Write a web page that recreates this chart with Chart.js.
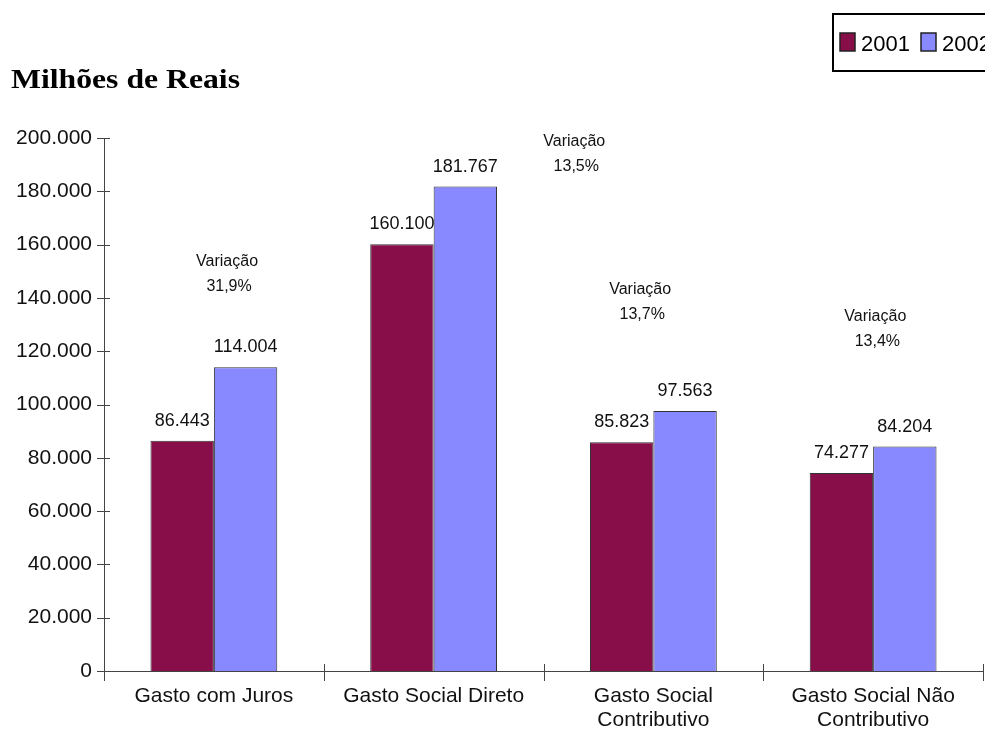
<!DOCTYPE html>
<html>
<head>
<meta charset="utf-8">
<script src="https://cdn.jsdelivr.net/npm/chart.js@4.4.1/dist/chart.umd.min.js"></script>
<style>
  html, body { margin: 0; padding: 0; background: #fff; overflow: hidden; }
  #wrap { width: 985px; height: 735px; }
</style>
</head>
<body>
<div id="wrap"><canvas id="gastoChart" width="985" height="735"></canvas></div>
<script>
    // dados do gráfico
    const categorias = ['Gasto com Juros', 'Gasto Social Direto', ['Gasto Social', 'Contributivo'], ['Gasto Social Não', 'Contributivo']];
    const anos = ['2001', '2002'];
    const valores2001 = [86443, 160100, 85823, 74277];
    const valores2002 = [114004, 181767, 97563, 84204];
    const variacoes = ['31,9%', '13,5%', '13,7%', '13,4%'];
    const yTicks = [0, 20000, 40000, 60000, 80000, 100000, 120000, 140000, 160000, 180000, 200000];

    // onde fica cada texto "Variação" (deslocamento na categoria, valor no eixo y)
    const variacaoDx = [0.06, 0.64, -0.06, 0.01];
    const variacaoY = [153500, 198500, 143300, 132800];

    const cores = ['#880E4A', '#8888FF'];

    function formatoBR(v) {
        return String(v).replace(/\B(?=(\d{3})+(?!\d))/g, '.');
    }

    const desenhoExtra = {
        id: 'desenhoExtra',
        afterDraw(chart) {
            const ctx = chart.ctx;
            const x = chart.scales.x;
            const y = chart.scales.y;
            const area = chart.chartArea;
            ctx.save();

            // marcas do eixo y (cruzando o eixo)
            ctx.strokeStyle = '#444';
            ctx.lineWidth = 1;
            y.ticks.forEach(t => {
                const py = Math.round(y.getPixelForValue(t.value)) + 0.5;
                ctx.beginPath();
                ctx.moveTo(area.left - 7, py);
                ctx.lineTo(area.left + 6, py);
                ctx.stroke();
            });

            // marcas do eixo x entre as categorias
            const larg = (x.getPixelForValue(1) - x.getPixelForValue(0));
            for (let i = 0; i <= categorias.length; i++) {
                const px = Math.round(x.getPixelForValue(0) - larg / 2 + larg * i) + 0.5;
                ctx.beginPath();
                ctx.moveTo(px, area.bottom - 7);
                ctx.lineTo(px, area.bottom + 10);
                ctx.stroke();
            }

            // valores acima das barras
            ctx.fillStyle = '#111';
            ctx.font = '18px "Liberation Sans", Arial, sans-serif';
            ctx.textAlign = 'center';
            ctx.textBaseline = 'alphabetic';
            chart.data.datasets.forEach((ds, di) => {
                chart.getDatasetMeta(di).data.forEach((bar, i) => {
                    ctx.fillText(formatoBR(ds.data[i]), bar.x, bar.y - 15);
                });
            });

            // textos de variação
            ctx.font = '16px "Liberation Sans", Arial, sans-serif';
            ctx.textBaseline = 'middle';
            variacoes.forEach((txt, i) => {
                const px = x.getPixelForValue(i) + variacaoDx[i] * larg;
                const py = y.getPixelForValue(variacaoY[i]);
                ctx.fillText('Variação', px, py);
                ctx.fillText(txt, px + 2, py + 25);
            });

            // título
            ctx.textAlign = 'left';
            ctx.textBaseline = 'alphabetic';
            ctx.fillStyle = '#000';
            ctx.font = 'bold 28px "Liberation Serif", "Times New Roman", serif';
            const titulo = 'Milhões de Reais';
            const w = ctx.measureText(titulo).width;
            ctx.save();
            ctx.translate(11, 88);
            ctx.scale(229 / w, 1);
            ctx.fillText(titulo, 0, 0);
            ctx.restore();

            // legenda (cortada na borda direita como no original)
            ctx.strokeStyle = '#000';
            ctx.lineWidth = 2;
            ctx.strokeRect(833, 14, 200, 57);
            ctx.font = '22px "Liberation Sans", Arial, sans-serif';
            let lx = 840;
            anos.forEach((ano, i) => {
                ctx.fillStyle = cores[i];
                ctx.fillRect(lx, 33, 15, 18);
                ctx.lineWidth = 1.5;
                ctx.strokeStyle = '#222';
                ctx.strokeRect(lx, 33, 15, 18);
                ctx.fillStyle = '#000';
                ctx.fillText(ano, lx + 21, 51);
                lx += 81;
            });

            ctx.restore();
        }
    };

    const ctx = document.getElementById('gastoChart').getContext('2d');
    const gastoChart = new Chart(ctx, {
        type: 'bar',
        data: {
            labels: categorias,
            datasets: [{
                label: anos[0],
                data: valores2001,
                backgroundColor: cores[0],
                borderColor: '#333',
                borderWidth: 1
            }, {
                label: anos[1],
                data: valores2002,
                backgroundColor: cores[1],
                borderColor: '#333',
                borderWidth: 1
            }]
        },
        options: {
            responsive: false,
            animation: false,
            layout: {
                padding: { left: 0, top: 138, right: 2, bottom: 0 }
            },
            datasets: {
                bar: {
                    categoryPercentage: 0.577,
                    barPercentage: 1
                }
            },
            scales: {
                x: {
                    grid: { display: false },
                    border: { color: '#444', width: 1 },
                    ticks: {
                        color: '#111',
                        padding: 5,
                        maxRotation: 0,
                        font: { family: '"Liberation Sans", Arial, sans-serif', size: 21, lineHeight: 1.15 }
                    },
                    afterFit: s => { s.height = 64; }
                },
                y: {
                    min: 0,
                    max: 200000,
                    afterBuildTicks: s => { s.ticks = yTicks.map(v => ({ value: v })); },
                    grid: { display: false },
                    border: { color: '#444', width: 1 },
                    ticks: {
                        color: '#111',
                        padding: 4,
                        font: { family: '"Liberation Sans", Arial, sans-serif', size: 21 },
                        callback: v => formatoBR(v)
                    },
                    afterFit: s => { s.width = 104; }
                }
            },
            plugins: {
                legend: { display: false },
                tooltip: { enabled: false }
            }
        },
        plugins: [desenhoExtra]
    });
</script>
</body>
</html>
